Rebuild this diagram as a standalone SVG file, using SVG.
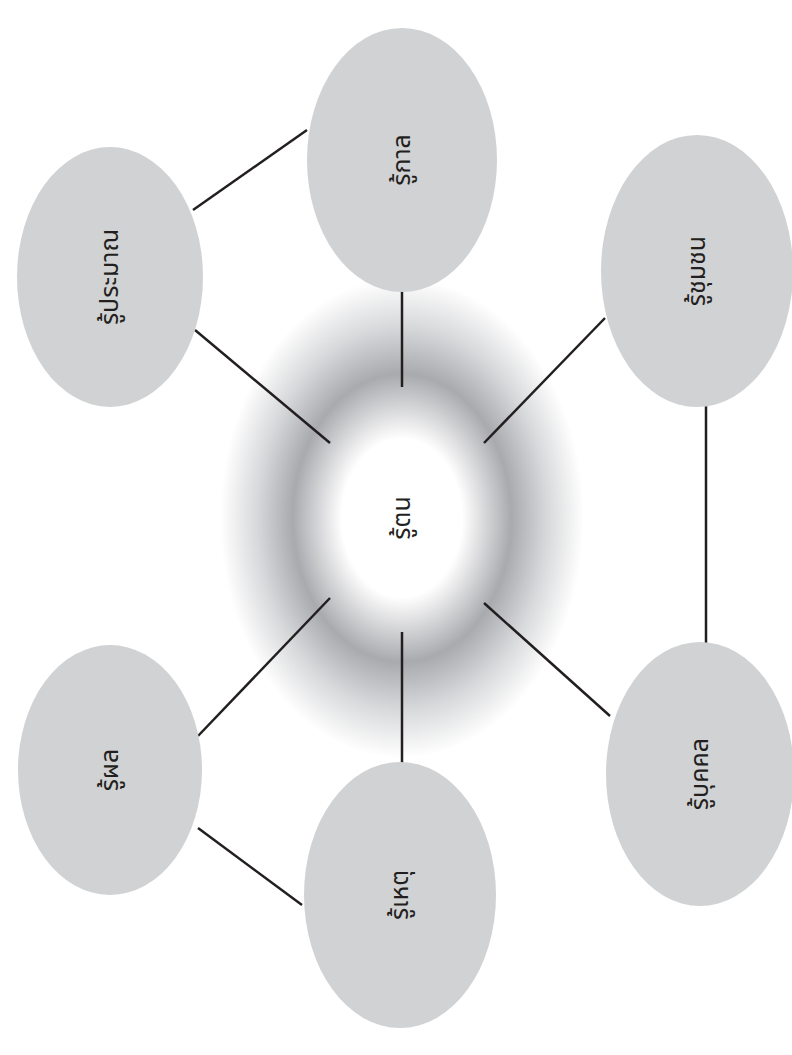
<svg xmlns="http://www.w3.org/2000/svg" width="792" height="1055" viewBox="0 0 792 1055">
  <defs>
    <radialGradient id="glow" cx="0.5" cy="0.5" r="0.5">
      <stop offset="0" stop-color="#ffffff"/>
      <stop offset="0.33" stop-color="#ffffff"/>
      <stop offset="0.6" stop-color="#a9aaae"/>
      <stop offset="0.8" stop-color="#d8d9db"/>
      <stop offset="1" stop-color="#ffffff"/>
    </radialGradient>
  </defs>
  <style>
    .node { fill: #d1d2d4; }
    .lbl { font-family: 'Noto Sans Thai', 'Noto Sans', 'DejaVu Sans', sans-serif; font-size: 25px; fill: #231f20; text-anchor: middle; dominant-baseline: central; }
    .conn line { stroke: #231f20; stroke-width: 2.5; }
  </style>
  <rect width="792" height="1055" fill="#ffffff"/>

  <g id="center">
    <ellipse cx="402" cy="518" rx="182" ry="240" fill="url(#glow)"/>
    <text class="lbl" transform="translate(402,518) rotate(-90)">รู้ตน</text>
  </g>

  <g id="connectors" class="conn">
    <line x1="193" y1="210" x2="307" y2="130"/>
    <line x1="195" y1="330" x2="330" y2="443"/>
    <line x1="402" y1="280" x2="402" y2="387"/>
    <line x1="605" y1="318" x2="484" y2="443"/>
    <line x1="706" y1="405" x2="706" y2="646"/>
    <line x1="484" y1="603" x2="610" y2="716"/>
    <line x1="402" y1="632" x2="402" y2="778"/>
    <line x1="330" y1="598" x2="198" y2="736"/>
    <line x1="198" y1="828" x2="302" y2="905"/>
  </g>

  <g id="n-praman">
    <ellipse class="node" cx="110" cy="277" rx="93" ry="130"/>
    <text class="lbl" transform="translate(110,277) rotate(-90)">รู้ประมาณ</text>
  </g>
  <g id="n-kan">
    <ellipse class="node" cx="402" cy="160" rx="95" ry="132"/>
    <text class="lbl" transform="translate(402,160) rotate(-90)">รู้กาล</text>
  </g>
  <g id="n-chumchon">
    <ellipse class="node" cx="697" cy="271" rx="96" ry="136"/>
    <text class="lbl" transform="translate(697,271) rotate(-90)">รู้ชุมชน</text>
  </g>
  <g id="n-bukkhon">
    <ellipse class="node" cx="700" cy="774" rx="94" ry="132"/>
    <text class="lbl" transform="translate(700,774) rotate(-90)">รู้บุคคล</text>
  </g>
  <g id="n-het">
    <ellipse class="node" cx="400" cy="895" rx="96" ry="133"/>
    <text class="lbl" transform="translate(400,895) rotate(-90)">รู้เหตุ</text>
  </g>
  <g id="n-phon">
    <ellipse class="node" cx="110" cy="770" rx="92" ry="125"/>
    <text class="lbl" transform="translate(110,770) rotate(-90)">รู้ผล</text>
  </g>
</svg>
